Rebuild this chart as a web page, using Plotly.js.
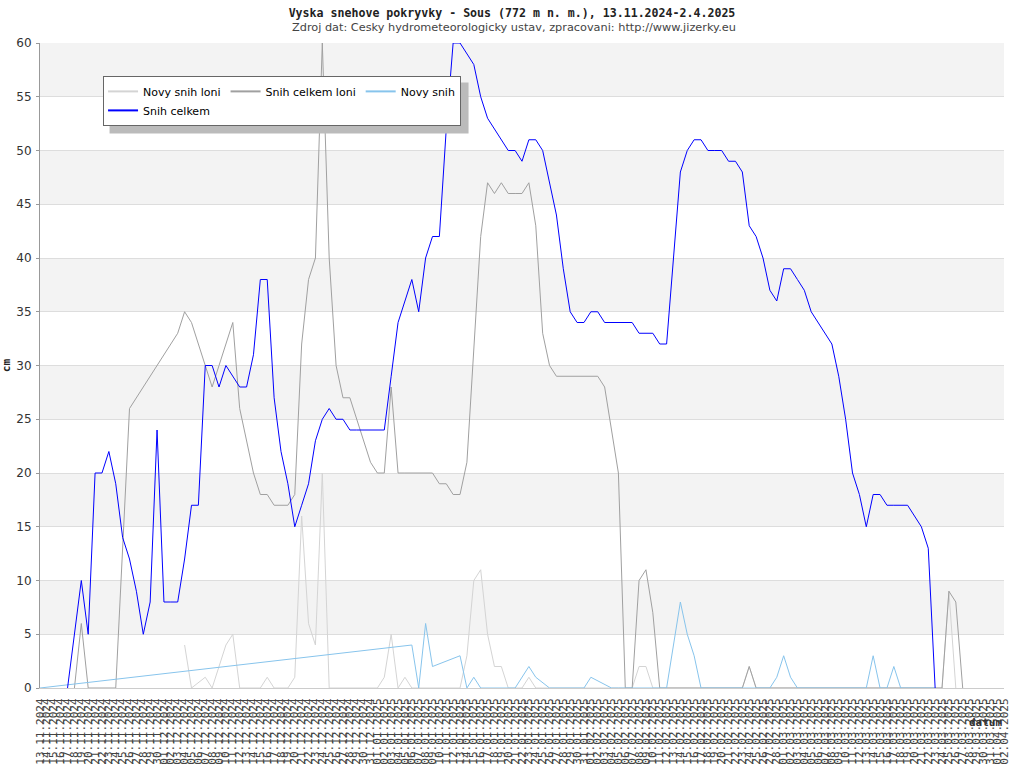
<!DOCTYPE html>
<html><head><meta charset="utf-8">
<script src="https://cdn.plot.ly/plotly-3.0.1.min.js"></script>
<style>html,body{margin:0;padding:0;background:#fff}#chart{width:1024px;height:768px}</style>
</head><body><div id="chart"></div>
<script>
// ---- data: each series = first day (offset from 13.11.2024) + consecutive daily values (null = no value) ----
const startYear = 2024, startMonth = 10, startDay = 13; // 13.11.2024
const rangeStart = '2024-11-13';
const rangeEnd = '2025-04-02';

// Novy snih loni, from day 21
const novyLoniPrvniDen = 21;
const novyLoniCm = [
  4,0,null,1,0,null,4,5,0,          // d21-29
  0,0,0,1,0,0,0,1,16,6,             // d30-39
  4,20,0,0,0,0,0,0,0,0,             // d40-49
  1,5,0,1,0,0,0,0,0,0,              // d50-59
  0,0,3,10,11,5,2,2,0,0,            // d60-69
  0,1,0,0,0,0,0,0,0,0,              // d70-79
  0,0,0,0,0,0,0,2,2,0,              // d80-89
  0,0,0,0,0,0,0,0,0,0,              // d90-99
  0,0,0,2,0,0,0,0,0,0,              // d100-109
  0,0,0,0,0,0,0,0,0,0,              // d110-119
  0,0,0,0,0,0,0,0,0,0,              // d120-129
  0,0,9,0                           // d130-133
];

// Snih celkem loni, from day 5
const celkemLoniPrvniDen = 5;
const celkemLoniCm = [
  0,6,0,0,0,                        // d5-9
  0,0,null,26,null,null,null,null,null,null, // d10-19
  33,35,34,32,30,28,30,32,34,26,    // d20-29
  23,20,18,18,17,17,17,18,32,38,    // d30-39
  40,60,40,30,27,27,25,23,21,20,    // d40-49
  20,28,20,20,20,20,20,20,19,19,    // d50-59
  18,18,21,31,42,47,46,47,46,46,    // d60-69
  46,47,43,33,30,29,29,29,29,29,    // d70-79
  29,29,28,24,20,0,0,10,11,7,       // d80-89
  0,0,0,0,0,0,0,0,0,0,              // d90-99
  0,0,0,2,0,0,0,0,0,0,              // d100-109
  0,0,0,0,0,0,0,0,0,0,              // d110-119
  0,0,0,0,0,0,0,0,0,0,              // d120-129
  0,0,9,8,0                         // d130-134
];

// Novy snih, from day 0
const novyPrvniDen = 0;
const novyCm = [
  0,null,null,null,null,null,null,null,null,null,              // d0-9
  null,null,null,null,null,null,null,null,null,null,           // d10-19
  null,null,null,null,null,null,null,null,null,null,           // d20-29
  null,null,null,null,null,null,null,null,null,null,           // d30-39
  null,null,null,null,null,null,null,null,null,null,           // d40-49
  null,null,null,null,4,0,6,2,null,null,                       // d50-59
  null,3,0,1,0,0,0,0,0,0,           // d60-69
  null,2,1,null,0,0,0,0,0,0,        // d70-79
  1,null,null,0,0,0,0,0,0,0,        // d80-89
  0,0,null,8,5,3,0,0,0,0,           // d90-99
  0,0,0,0,0,0,0,1,3,1,              // d100-109
  0,0,0,0,0,0,0,0,0,0,              // d110-119
  0,3,0,0,2,0,0,0,0,0,              // d120-129
  0                                 // d130
];

// Snih celkem, from day 4
const celkemPrvniDen = 4;
const celkemCm = [
  0,5,10,5,20,20,                   // d4-9
  22,19,14,12,9,5,8,24,8,8,         // d10-19
  8,12,17,17,30,30,28,30,29,28,     // d20-29
  28,31,38,38,27,22,19,15,17,19,    // d30-39
  23,25,26,25,25,24,24,24,24,24,    // d40-49
  24,29,34,36,38,35,40,42,42,52,    // d50-59
  60,60,59,58,55,53,52,51,50,50,    // d60-69
  49,51,51,50,47,44,39,35,34,34,    // d70-79
  35,35,34,34,34,34,34,33,33,33,    // d80-89
  32,32,40,48,50,51,51,50,50,50,    // d90-99
  49,49,48,43,42,40,37,36,39,39,    // d100-109
  38,37,35,34,33,32,29,25,20,18,    // d110-119
  15,18,18,17,17,17,17,16,15,13,    // d120-129
  0                                 // d130
];

const seriesNames = ['Novy snih loni', 'Snih celkem loni', 'Novy snih', 'Snih celkem'];
const seriesColors = ['#d4d4d4', '#a0a0a0', '#87c4ec', '#0000ff'];
const titleText = 'Vyska snehove pokryvky - Sous (772 m n. m.), 13.11.2024-2.4.2025';
const subtitleText = 'Zdroj dat: Cesky hydrometeorologicky ustav, zpracovani: http://www.jizerky.eu';

// ---- helpers ----
function toDate(offset) {
  const d = new Date(Date.UTC(startYear, startMonth, startDay + offset));
  return d.toISOString().slice(0, 10);
}

function trace(firstDay, cm, idx, group) {
  return {
    type: 'scatter', mode: 'lines',
    x: cm.map((_, i) => toDate(firstDay + i)), y: cm,
    name: seriesNames[idx], legendgroup: group,
    line: {color: seriesColors[idx], width: 1},
    connectgaps: true, hoverinfo: 'x+y+name'
  };
}

const data = [
  trace(novyLoniPrvniDen, novyLoniCm, 0, 'a'),
  trace(celkemLoniPrvniDen, celkemLoniCm, 1, 'b'),
  trace(novyPrvniDen, novyCm, 2, 'c'),
  trace(celkemPrvniDen, celkemCm, 3, 'a')
];

const bandStarts = [5, 15, 25, 35, 45, 55];
const shapes = bandStarts.map(b => ({
  type: 'rect', xref: 'paper', yref: 'y', x0: 0, x1: 1, y0: b, y1: b + 5,
  fillcolor: '#f3f3f3', line: {width: 0}, layer: 'below'
}));

const layout = {
  width: 1024, height: 768,
  paper_bgcolor: '#ffffff', plot_bgcolor: '#ffffff',
  margin: {l: 40, r: 20, t: 43, b: 80},
  title: {
    text: '<b>' + titleText + '</b>',
    font: {family: 'DejaVu Sans Mono', size: 11.6, color: '#222'},
    x: 0.5, xanchor: 'center', y: 0.983, yanchor: 'middle', yref: 'container'
  },
  showlegend: true,
  legend: {
    orientation: 'h', traceorder: 'grouped', tracegroupgap: 0,
    x: 0.0654, xanchor: 'left', y: 0.949, yanchor: 'top',
    bgcolor: '#ffffff', bordercolor: '#666666', borderwidth: 1,
    font: {family: 'DejaVu Sans', size: 11, color: '#000'}
  },
  xaxis: {
    type: 'date', range: [rangeStart, rangeEnd],
    tick0: rangeStart, dtick: 86400000, tickformat: '%d.%m.%Y',
    tickangle: -90, ticks: '', showgrid: false, zeroline: false,
    showline: true, linecolor: '#cccccc', linewidth: 1,
    tickfont: {family: 'DejaVu Sans Mono', size: 11, color: '#444'},
    ticklabelstandoff: 5, automargin: false, fixedrange: true
  },
  yaxis: {
    range: [0, 60], dtick: 5, tick0: 0,
    showgrid: true, gridcolor: '#dddddd', gridwidth: 1, zeroline: false,
    showline: true, linecolor: '#999999', linewidth: 1,
    ticks: 'outside', ticklen: 3, tickcolor: '#999999',
    tickfont: {family: 'DejaVu Sans', size: 12, color: '#333'},
    ticklabelstandoff: 2,
    title: {text: '<b>cm</b>', font: {family: 'DejaVu Sans Mono', size: 11, color: '#222'}, standoff: 3},
    automargin: false, fixedrange: true
  },
  shapes: shapes,
  annotations: [
    {
      text: subtitleText, xref: 'paper', yref: 'paper', x: 0.492, y: 1.0233,
      xanchor: 'center', yanchor: 'middle', showarrow: false,
      font: {family: 'DejaVu Sans', size: 11.3, color: '#444'}
    },
    {
      text: '<b>datum</b>', xref: 'paper', yref: 'paper', x: 1, y: -0.053,
      xanchor: 'right', yanchor: 'middle', showarrow: false,
      font: {family: 'DejaVu Sans Mono', size: 11, color: '#333'}
    }
  ]
};

Plotly.newPlot('chart', data, layout, {displayModeBar: false, staticPlot: true}).then(gd => {
  // legend drop shadow, placed from the rendered legend box
  const bg = gd.querySelector('.legend .bg');
  if (!bg) return gd;
  const r = bg.getBoundingClientRect();
  const g = gd.getBoundingClientRect();
  const gs = gd._fullLayout._size;
  const px = v => (v - g.left - gs.l) / gs.w;
  const py = v => 1 - (v - g.top - gs.t) / gs.h;
  const shadow = {
    type: 'rect', xref: 'paper', yref: 'paper',
    x0: px(r.left + 6), x1: px(r.right + 8), y0: py(r.bottom + 8), y1: py(r.top + 6),
    fillcolor: '#bbbbbb', line: {width: 0}, layer: 'above'
  };
  return Plotly.relayout(gd, {shapes: shapes.concat([shadow])});
}).then(() => {
  document.querySelectorAll('#chart .legend .legendlines path').forEach(p => {
    p.style.strokeWidth = '2px';
  });
});
</script>
</body></html>
